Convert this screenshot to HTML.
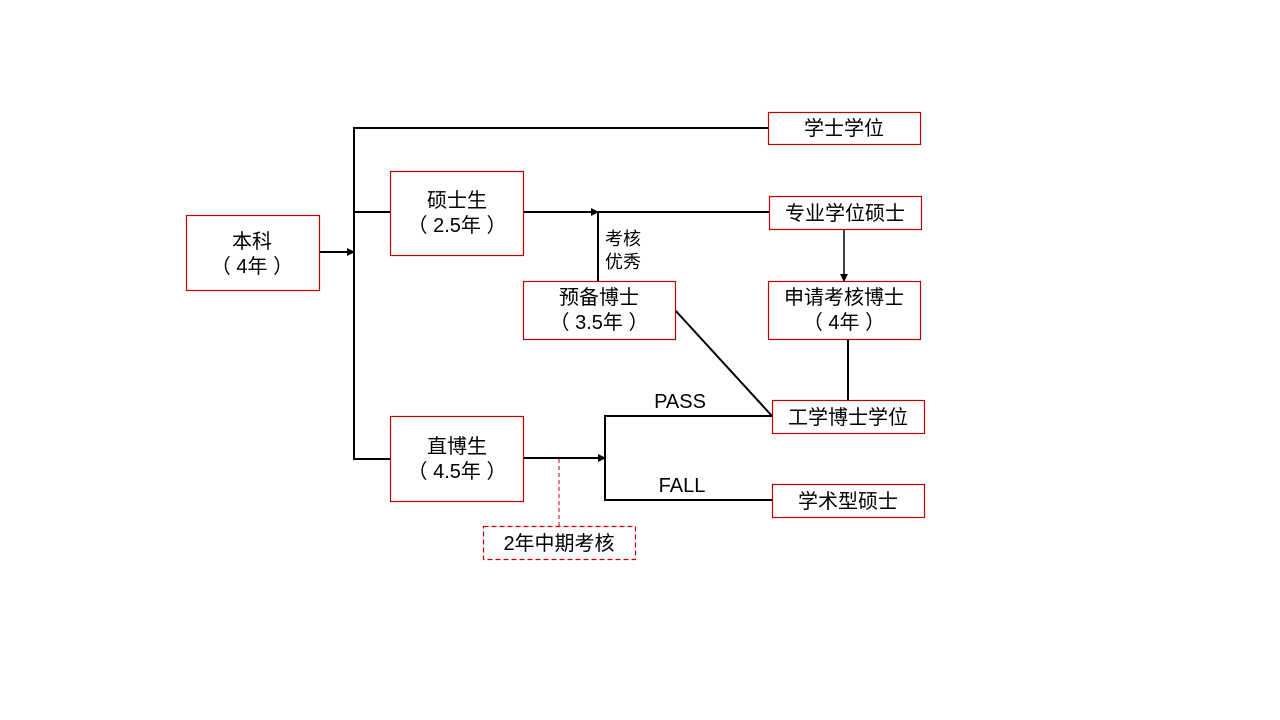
<!DOCTYPE html>
<html><head><meta charset="utf-8"><style>
html,body{margin:0;padding:0;background:#fff;width:1280px;height:720px;overflow:hidden}
text{font-family:"Liberation Sans","Noto Sans CJK SC",sans-serif;fill:#000}
</style></head><body>
<svg width="1280" height="720" xmlns="http://www.w3.org/2000/svg">
<defs><marker id="a" markerWidth="8" markerHeight="8" refX="7" refY="4" orient="auto" markerUnits="userSpaceOnUse"><path d="M0,0 L8,4 L0,8z" fill="#000"/></marker></defs>
<g stroke="#000" stroke-width="2" fill="none">
<line x1="354" y1="127" x2="354" y2="460"/>
<line x1="353" y1="128" x2="768" y2="128"/>
<line x1="354" y1="212" x2="390" y2="212"/>
<line x1="354" y1="459" x2="390" y2="459"/>
<line x1="319" y1="252" x2="354" y2="252" marker-end="url(#a)"/>
<line x1="523" y1="212" x2="598" y2="212" marker-end="url(#a)"/>
<line x1="598" y1="212" x2="769" y2="212"/>
<line x1="598" y1="212" x2="598" y2="281"/>
<line x1="848" y1="339" x2="848" y2="400"/>
<line x1="675" y1="310" x2="772" y2="416"/>
<line x1="523" y1="458" x2="605" y2="458" marker-end="url(#a)"/>
<line x1="605" y1="415" x2="605" y2="501"/>
<line x1="604" y1="416" x2="772" y2="416"/>
<line x1="604" y1="500" x2="772" y2="500"/>
</g>
<line x1="844" y1="229" x2="844" y2="281" stroke="#000" stroke-width="1.5" marker-end="url(#a)"/>
<line x1="559" y1="459" x2="559" y2="526" stroke="#c00000" stroke-width="1" stroke-dasharray="4,3"/>
<g stroke="#c00000" stroke-width="1.2" fill="#fff">
<rect x="186.5" y="215.5" width="133" height="75"/>
<rect x="390.5" y="171.5" width="133" height="84"/>
<rect x="390.5" y="416.5" width="133" height="85"/>
<rect x="768.5" y="112.5" width="152" height="32"/>
<rect x="769.5" y="196.5" width="152" height="33"/>
<rect x="523.5" y="281.5" width="152" height="58"/>
<rect x="768.5" y="281.5" width="152" height="58"/>
<rect x="772.5" y="400.5" width="152" height="33"/>
<rect x="772.5" y="484.5" width="152" height="33"/>
<rect x="483.5" y="526.5" width="152" height="33" stroke-dasharray="5,3"/>
</g>
<g font-size="20" text-anchor="middle">
<text x="252" y="248">本科</text><text x="252" y="273" xml:space="preserve">（ 4年 ）</text>
<text x="457" y="207">硕士生</text><text x="457" y="232" xml:space="preserve">（ 2.5年 ）</text>
<text x="457" y="453">直博生</text><text x="457" y="478" xml:space="preserve">（ 4.5年 ）</text>
<text x="844" y="135">学士学位</text>
<text x="845" y="220">专业学位硕士</text>
<text x="599" y="304">预备博士</text><text x="599" y="329" xml:space="preserve">（ 3.5年 ）</text>
<text x="844" y="304">申请考核博士</text><text x="844" y="329" xml:space="preserve">（ 4年 ）</text>
<text x="848" y="424">工学博士学位</text>
<text x="848" y="508">学术型硕士</text>
<text x="559" y="550">2年中期考核</text>
<text x="680" y="408">PASS</text>
<text x="682" y="492">FALL</text>
</g>
<g font-size="18"><text x="605" y="245">考核</text><text x="605" y="268">优秀</text></g>
</svg>
</body></html>
